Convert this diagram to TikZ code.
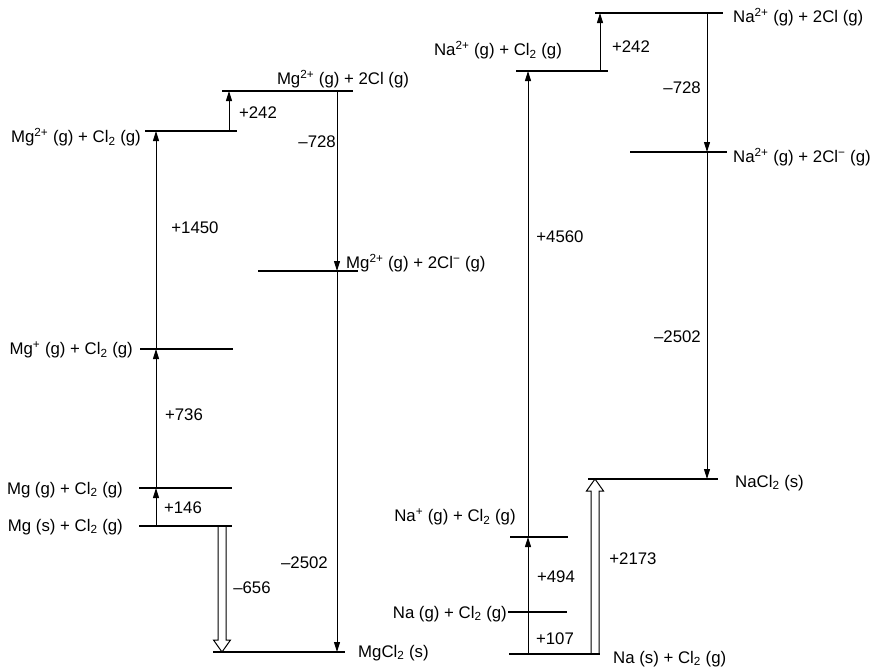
\documentclass[tikz,border=0pt]{standalone}
\usepackage{fontspec}
\setmainfont{Liberation Sans}
\usetikzlibrary{arrows.meta,calc}
\begin{document}
\begin{tikzpicture}[x=1pt,y=-1pt,
  level/.style={line width=1.2pt},
  upar/.style={line width=1pt,-{Triangle[length=10pt,width=6pt]}},
  plain/.style={line width=1pt},
  lab/.style={inner sep=0pt,font=\fontsize{16.8}{19}\selectfont},
  hollow/.style={line width=1pt,line join=miter}]
\useasboundingbox (0,0) rectangle (879,672);
% ---------------- left cycle (MgCl2) ----------------
\coordinate (a1) at (222,91);  \coordinate (a2) at (353,91);
\coordinate (b1) at (145,131); \coordinate (b2) at (237,131);
\coordinate (c1) at (258,271); \coordinate (c2) at (358,271);
\coordinate (d1) at (140,349); \coordinate (d2) at (233,349);
\coordinate (e1) at (139,488); \coordinate (e2) at (232,488);
\coordinate (f1) at (139,526); \coordinate (f2) at (232,526);
\coordinate (g1) at (213,652); \coordinate (g2) at (345,652);
\foreach \p in {a,b,c,d,e,f,g} \draw[level] (\p1) -- (\p2);

\coordinate (lv1) at (156,526); \coordinate (lv2) at (156,488);
\coordinate (lv3) at (156,349); \coordinate (lv4) at (156,131);
\coordinate (s1) at (229,131);  \coordinate (s2) at (229,91);
\coordinate (r1) at (337,91);   \coordinate (r2) at (337,271); \coordinate (r3) at (337,652);
\coordinate (h1) at (222,526);  \coordinate (h2) at (222,652);

\draw[upar] (lv1) -- (lv2);
\draw[upar] (lv2) -- (lv3);
\draw[upar] (lv3) -- (lv4);
\draw[upar] (s1) -- (s2);
\draw[upar] (r1) -- (r2);
\draw[upar] (r2) -- (r3);
\draw[hollow] ($(h1)+(-4,0)$) -- ($(h2)+(-4,-12)$) -- ($(h2)+(-8.5,-12)$) -- (h2)
  -- ($(h2)+(8.5,-12)$) -- ($(h2)+(4,-12)$) -- ($(h1)+(4,0)$);

\node[lab] (ta) at (343,79) {Mg\textsuperscript{2+} (g) + 2Cl (g)};
\node[lab,anchor=east] (tb) at (141,137) {Mg\textsuperscript{2+} (g) + Cl\textsubscript{2} (g)};
\node[lab,anchor=west] (tc) at (346,263) {Mg\textsuperscript{2+} (g) + 2Cl\textsuperscript{−} (g)};
\node[lab,anchor=east] (td) at (133,350) {Mg\textsuperscript{+} (g) + Cl\textsubscript{2} (g)};
\node[lab,anchor=east] (te) at (123,490) {Mg (g) + Cl\textsubscript{2} (g)};
\node[lab,anchor=east] (tf) at (123,527) {Mg (s) + Cl\textsubscript{2} (g)};
\node[lab,anchor=west] (tg) at (358,653) {MgCl\textsubscript{2} (s)};

\node[lab] (n242a) at (258,113) {+242};
\node[lab,anchor=east] (n728a) at (336,142) {–728};
\node[lab] (n1450) at (195,228) {+1450};
\node[lab] (n736) at (184,415) {+736};
\node[lab] (n146) at (183,508) {+146};
\node[lab] (n656) at (252,588) {–656};
\node[lab,anchor=east] (n2502a) at (328,563) {–2502};

% ---------------- right cycle (NaCl2) ----------------
\coordinate (A1) at (595,13);  \coordinate (A2) at (723,13);
\coordinate (B1) at (516,71);  \coordinate (B2) at (608,71);
\coordinate (C1) at (630,152); \coordinate (C2) at (727,152);
\coordinate (D1) at (588,479); \coordinate (D2) at (718,479);
\coordinate (E1) at (510,537); \coordinate (E2) at (568,537);
\coordinate (F1) at (508,612); \coordinate (F2) at (567,612);
\coordinate (G1) at (509,654); \coordinate (G2) at (600,654);
\foreach \p in {A,B,C,D,E,F,G} \draw[level] (\p1) -- (\p2);

\coordinate (V1) at (528,654); \coordinate (V2) at (528,612);
\coordinate (V3) at (528,537); \coordinate (V4) at (528,71);
\coordinate (S1) at (600,71);  \coordinate (S2) at (600,13);
\coordinate (R1) at (707,13);  \coordinate (R2) at (707,152); \coordinate (R3) at (707,479);
\coordinate (H1) at (595,654); \coordinate (H2) at (595,479);

\draw[plain] (V1) -- (V2);
\draw[upar] (V2) -- (V3);
\draw[upar] (V3) -- (V4);
\draw[upar] (S1) -- (S2);
\draw[upar] (R1) -- (R2);
\draw[upar] (R2) -- (R3);
\draw[hollow] ($(H1)+(-4,0)$) -- ($(H2)+(-4,12)$) -- ($(H2)+(-8.5,12)$) -- (H2)
  -- ($(H2)+(8.5,12)$) -- ($(H2)+(4,12)$) -- ($(H1)+(4,0)$);

\node[lab,anchor=west] (TA) at (733,17) {Na\textsuperscript{2+} (g) + 2Cl (g)};
\node[lab] (TB) at (498,50) {Na\textsuperscript{2+} (g) + Cl\textsubscript{2} (g)};
\node[lab,anchor=west] (TC) at (733,157) {Na\textsuperscript{2+} (g) + 2Cl\textsuperscript{−} (g)};
\node[lab,anchor=west] (TD) at (735,483) {NaCl\textsubscript{2} (s)};
\node[lab] (TE) at (455,517) {Na\textsuperscript{+} (g) + Cl\textsubscript{2} (g)};
\node[lab,anchor=east] (TF) at (507,614) {Na (g) + Cl\textsubscript{2} (g)};
\node[lab,anchor=west] (TG) at (613,659) {Na (s) + Cl\textsubscript{2} (g)};

\node[lab] (N242) at (631,47) {+242};
\node[lab,anchor=east] (N728) at (701,88) {–728};
\node[lab] (N4560) at (560,237) {+4560};
\node[lab,anchor=east] (N2502) at (701,337) {–2502};
\node[lab] (N2173) at (633,559) {+2173};
\node[lab] (N494) at (556,577) {+494};
\node[lab] (N107) at (555,639) {+107};
\end{tikzpicture}
\end{document}
